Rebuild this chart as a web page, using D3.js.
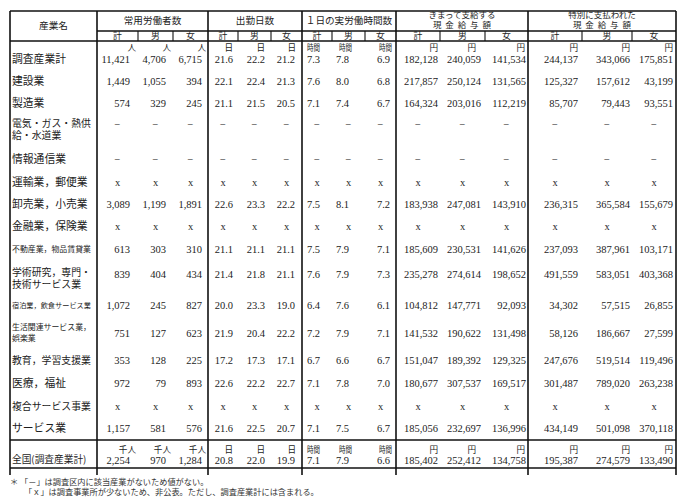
<!DOCTYPE html>
<html><head><meta charset="utf-8">
<script src="https://cdn.jsdelivr.net/npm/d3@7"></script>
<style>body{margin:0;background:#fff}svg{display:block}</style>
</head><body><svg id="c" width="689" height="501"></svg>
<script>
// ---------------- DATA ----------------
const categories = ["調査産業計","建設業","製造業","電気・ガス・熱供\n給・水道業","情報通信業","運輸業，郵便業","卸売業，小売業","金融業，保険業","不動産業，物品賃貸業","学術研究，専門・\n技術サービス業","宿泊業，飲食サービス業","生活関連サービス業，\n娯楽業","教育，学習支援業","医療，福祉","複合サービス事業","サービス業"];
const nationalLabel = "全国(調査産業計)";
const groupTitles = [["常用労働者数"],["出勤日数"],["１日の実労働時間数"],["きまって支給する","現金給与額"],["特別に支払われた","現金給与額"]];
const subHeaders = ["計","男","女"];
const unitsTop = ["人","人","人","日","日","日","時間","時間","時間","円","円","円","円","円","円"];
const unitsNational = ["千人","千人","千人","日","日","日","時間","時間","時間","円","円","円","円","円","円"];

const workersTotal  = [11421,1449,574,"−","−","x",3089,"x",613,839,1072,751,353,972,"x",1157];
const workersMale   = [4706,1055,329,"−","−","x",1199,"x",303,404,245,127,128,79,"x",581];
const workersFemale = [6715,394,245,"−","−","x",1891,"x",310,434,827,623,225,893,"x",576];
const daysTotal  = [21.6,22.1,21.1,"−","−","x",22.6,"x",21.1,21.4,20.0,21.9,17.2,22.6,"x",21.6];
const daysMale   = [22.2,22.4,21.5,"−","−","x",23.3,"x",21.1,21.8,23.3,20.4,17.3,22.2,"x",22.5];
const daysFemale = [21.2,21.3,20.5,"−","−","x",22.2,"x",21.1,21.1,19.0,22.2,17.1,22.7,"x",20.7];
const hoursTotal  = [7.3,7.6,7.1,"−","−","x",7.5,"x",7.5,7.6,6.4,7.2,6.7,7.1,"x",7.1];
const hoursMale   = [7.8,8.0,7.4,"−","−","x",8.1,"x",7.9,7.9,7.6,7.9,6.6,7.8,"x",7.5];
const hoursFemale = [6.9,6.8,6.7,"−","−","x",7.2,"x",7.1,7.3,6.1,7.1,6.7,7.0,"x",6.7];
const regularTotal  = [182128,217857,164324,"−","−","x",183938,"x",185609,235278,104812,141532,151047,180677,"x",185056];
const regularMale   = [240059,250124,203016,"−","−","x",247081,"x",230531,274614,147771,190622,189392,307537,"x",232697];
const regularFemale = [141534,131565,112219,"−","−","x",143910,"x",141626,198652,92093,131498,129325,169517,"x",136996];
const specialTotal  = [244137,125327,85707,"−","−","x",236315,"x",237093,491559,34302,58126,247676,301487,"x",434149];
const specialMale   = [343066,157612,79443,"−","−","x",365584,"x",387961,583051,57515,186667,519514,789020,"x",501098];
const specialFemale = [175851,43199,93551,"−","−","x",155679,"x",103171,403368,26855,27599,119496,263238,"x",370118];

const nationalWorkers = [2254,970,1284];
const nationalDays    = [20.8,22.0,19.9];
const nationalHours   = [7.1,7.9,6.6];
const nationalRegular = [185402,252412,134758];
const nationalSpecial = [195387,274579,133490];

const footnotes = ["＊ 「－」は調査区内に該当産業がないため値がない。","「ｘ」は調査事業所が少ないため、非公表。ただし、調査産業計には含まれる。"];

// ---------------- LAYOUT ----------------
const W = 689, H = 501;
const colEdges = [10,97,138,173,208,238,271,302,332,365,396,440,485,528,582,632,676];
const numAnchors  = [130,166,202, 233,265,295, 320,349,390, 438,481,526, 578,630,673];
const unitAnchors = [136,171,206, 233,265,296, 320,352,392, 438,476,525, 578,630,673];
const rowY   = [59,81,103,124,159,182,204,226,249,274,305,333,360,383,406,428];
const labelY = [59,81,103,123,159,182,204,226,249,272,305,327,360,383,406,428];
const topY = 11, head1Y = 31, head2Y = 41, natLineY = 440, bottomY = 468, vExtY = 475;
const unitTopY = 48, natUnitY = 449.5, natValY = 460;
const numFont = "'Liberation Serif','Times New Roman',serif";
const jpFont = "'Noto Sans CJK JP','Noto Sans CJK SC',sans-serif";
const ink = "#1c1c1c";

const series = [workersTotal,workersMale,workersFemale,daysTotal,daysMale,daysFemale,hoursTotal,hoursMale,hoursFemale,regularTotal,regularMale,regularFemale,specialTotal,specialMale,specialFemale];
const national = [].concat(nationalWorkers,nationalDays,nationalHours,nationalRegular,nationalSpecial);
const fmtInt = d3.format(","), fmtDec = d3.format(".1f");
const groupFmt = [fmtInt, fmtDec, fmtDec, fmtInt, fmtInt];

const cols = d3.range(15);
const xNum  = d3.scaleOrdinal().domain(cols).range(numAnchors);
const xUnit = d3.scaleOrdinal().domain(cols).range(unitAnchors);
const xMid  = d3.scaleOrdinal().domain(cols).range(cols.map(j => (colEdges[j+1]+colEdges[j+2])/2));
const yRow  = d3.scaleOrdinal().domain(categories).range(rowY);
const yLab  = d3.scaleOrdinal().domain(categories).range(labelY);

const svg = d3.select("#c");
svg.append("rect").attr("width",W).attr("height",H).attr("fill","#fff");

// ---------------- GRID LINES ----------------
const g = svg.append("g").attr("stroke","#111").attr("fill","none");
const outerV = [0,1,4,7,10,13,16].map(i => colEdges[i]);
g.selectAll("line.v").data(outerV).join("line").attr("class","v")
  .attr("x1",d=>d).attr("x2",d=>d).attr("y1",topY).attr("y2",vExtY).attr("stroke-width",1.6);
const hLines = [{y:topY,x1:colEdges[0]},{y:head1Y,x1:colEdges[1]},{y:head2Y,x1:colEdges[0]},{y:natLineY,x1:colEdges[0]},{y:bottomY,x1:colEdges[0]}];
g.selectAll("line.h").data(hLines).join("line").attr("class","h")
  .attr("x1",d=>d.x1).attr("x2",colEdges[16]).attr("y1",d=>d.y).attr("y2",d=>d.y).attr("stroke-width",1.4);
const subV = [2,3,5,6,8,9,11,12,14,15].map(i => colEdges[i]);
g.selectAll("line.s").data(subV).join("line").attr("class","s")
  .attr("x1",d=>d).attr("x2",d=>d).attr("y1",head1Y).attr("y2",head2Y).attr("stroke-width",1.1);

// ---------------- HEADERS ----------------
const txt = svg.append("g").attr("fill",ink);
txt.append("text").attr("x",(colEdges[0]+colEdges[1])/2).attr("y",26).attr("dy","0.36em")
  .attr("text-anchor","middle").attr("font-family",jpFont).attr("font-size",9.6).text("産業名");
groupTitles.forEach((lines,gi) => {
  const cx = (colEdges[1+3*gi]+colEdges[4+3*gi])/2;
  const t = txt.append("text").attr("text-anchor","middle").attr("font-family",jpFont)
    .attr("font-size", lines.length === 1 ? 9.6 : 8.5);
  lines.forEach((ln,li) => {
    const y = lines.length === 1 ? 20.5 : (li === 0 ? 14.5 : 25);
    const spaced = li === 1;
    t.append("tspan").attr("x",cx + (spaced ? 1.9 : 0)).attr("y",y).attr("dy","0.36em")
      .attr("letter-spacing", spaced ? 3.9 : 0).text(ln);
  });
  subHeaders.forEach((s,si) => {
    const j = gi*3+si;
    txt.append("text").attr("x",xMid(j)).attr("y",36.3).attr("dy","0.36em")
      .attr("text-anchor","middle").attr("font-family",jpFont).attr("font-size",8.8).text(s);
  });
});

// ---------------- UNITS ----------------
function drawUnits(units, y){
  txt.append("g").selectAll("text").data(units).join("text")
    .attr("x",(d,j)=>xUnit(j)).attr("y",y).attr("dy","0.36em").attr("text-anchor","end")
    .attr("font-family",jpFont).attr("font-size",8.6)
    .attr("textLength",d=> d==="時間" ? 13 : null).attr("lengthAdjust","spacingAndGlyphs")
    .text(d=>d);
}
drawUnits(unitsTop, unitTopY);
drawUnits(unitsNational, natUnitY);

// ---------------- ROW LABELS ----------------
categories.forEach(cat => {
  const lines = cat.split("\n");
  const maxLen = d3.max(lines, l => l.length);
  const fs = Math.min(10.8, 79/maxLen);
  const gap = Math.max(11.2, fs*1.24);
  const t = txt.append("text").attr("font-family",jpFont).attr("font-size",fs);
  lines.forEach((ln,li) => {
    t.append("tspan").attr("x",12).attr("y",yLab(cat) + li*gap).attr("dy","0.36em").text(ln);
  });
});
txt.append("text").attr("x",12).attr("y",natValY).attr("dy","0.36em")
  .attr("font-family",jpFont).attr("font-size",9.7).text(nationalLabel);

// ---------------- CELL VALUES ----------------
function cell(v, j, y){
  const isNum = typeof v === "number";
  txt.append("text")
    .attr("x", isNum ? xNum(j) : xMid(j)).attr("y", y).attr("dy","0.35em")
    .attr("text-anchor", isNum ? "end" : "middle")
    .attr("font-family", numFont).attr("font-size", 10.5)
    .text(isNum ? groupFmt[Math.floor(j/3)](v) : v);
}
categories.forEach((cat,i) => series.forEach((arr,j) => cell(arr[i], j, yRow(cat))));
national.forEach((v,j) => cell(v, j, natValY));

// ---------------- FOOTNOTES ----------------
footnotes.forEach((f,i) => {
  txt.append("text").attr("x", i===0 ? 10 : 24).attr("y", i===0 ? 482 : 492).attr("dy","0.36em")
    .attr("font-family",jpFont).attr("font-size",8.2).attr("fill","#333").text(f);
});
</script></body></html>
